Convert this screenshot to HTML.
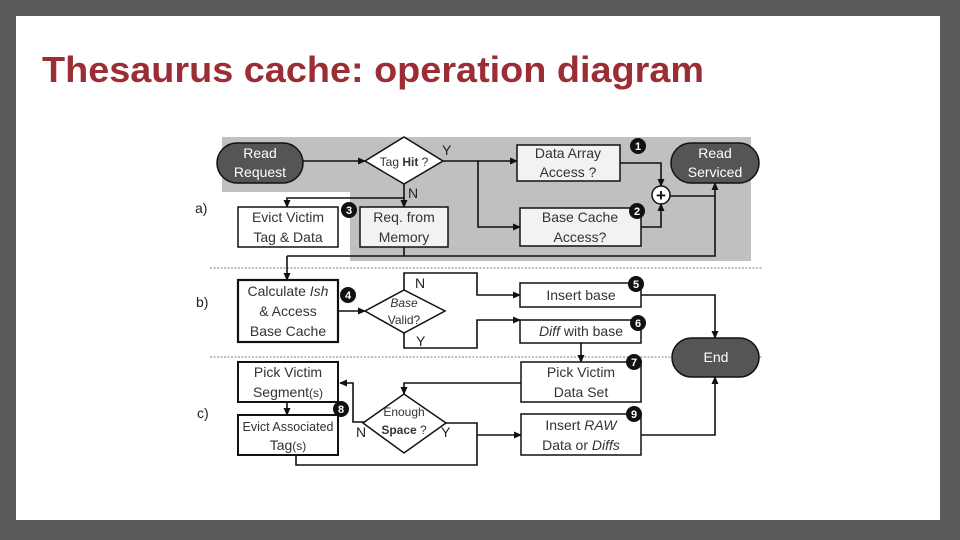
<!DOCTYPE html>
<html><head><meta charset="utf-8"><style>
html,body{margin:0;padding:0;background:#5a5a5a;}
svg{display:block;}
text{font-family:"Liberation Sans",sans-serif;}
</style></head><body>
<svg width="960" height="540" viewBox="0 0 960 540" xmlns="http://www.w3.org/2000/svg">
<defs>
<marker id="a" markerWidth="8" markerHeight="8" refX="7" refY="4" orient="auto" markerUnits="userSpaceOnUse"><path d="M0,0.5 L8,4 L0,7.5 Z" fill="#111"/></marker>
</defs>
<rect x="0" y="0" width="960" height="540" fill="#5a5a5a"/>
<rect x="16" y="16" width="924" height="504" fill="#fff"/>
<text x="42" y="82" font-size="36" font-weight="bold" fill="#9b2d35" textLength="662" lengthAdjust="spacingAndGlyphs">Thesaurus cache: operation diagram</text>

<!-- gray region -->
<path d="M222,137 L751,137 L751,261 L350,261 L350,192 L222,192 Z" fill="#c0c0c0"/>
<!-- dashed separators -->
<line x1="210" y1="268" x2="762" y2="268" stroke="#999" stroke-width="1.2" stroke-dasharray="2,1.5"/>
<line x1="210" y1="357" x2="762" y2="357" stroke="#999" stroke-width="1.2" stroke-dasharray="2,1.5"/>

<g stroke="#111" stroke-width="1.6" fill="none">
<!-- a -->
<line x1="303" y1="161" x2="365" y2="161" marker-end="url(#a)"/>
<path d="M443,161 L478,161 L478,227 L520,227" marker-end="url(#a)"/>
<line x1="478" y1="161" x2="517" y2="161" marker-end="url(#a)"/>
<path d="M620,163 L661,163 L661,186" marker-end="url(#a)"/>
<path d="M641,227 L661,227 L661,204" marker-end="url(#a)"/>
<path d="M670,196 L715,196"/>
<path d="M404,184 L404,207" marker-end="url(#a)"/>
<path d="M404,198 L287,198 L287,207" marker-end="url(#a)"/>
<path d="M404,247 L404,256"/>
<path d="M287,256 L715,256 L715,183" marker-end="url(#a)"/>
<path d="M287,256 L287,280" marker-end="url(#a)"/>
<!-- b -->
<line x1="338" y1="311" x2="365" y2="311" marker-end="url(#a)"/>
<path d="M404,290 L404,273 L477,273 L477,295 L520,295" marker-end="url(#a)"/>
<path d="M404,333 L404,348 L477,348 L477,320 L520,320" marker-end="url(#a)"/>
<path d="M641,295 L715,295 L715,338" marker-end="url(#a)"/>
<path d="M581,343 L581,362" marker-end="url(#a)"/>
<!-- c -->
<path d="M521,383 L404,383 L404,394" marker-end="url(#a)"/>
<path d="M365,422 L353,422 L353,383 L340,383" marker-end="url(#a)"/>
<path d="M287,402 L287,415" marker-end="url(#a)"/>
<path d="M446,423 L477,423 L477,465 L296,465 L296,455"/>
<path d="M477,435 L521,435" marker-end="url(#a)"/>
<path d="M641,435 L715,435 L715,377" marker-end="url(#a)"/>
</g>

<!-- pills -->
<rect x="217" y="143" width="86" height="40" rx="20" fill="#555" stroke="#111" stroke-width="1.5"/>
<rect x="671" y="143" width="88" height="40" rx="20" fill="#555" stroke="#111" stroke-width="1.5"/>
<rect x="672" y="338" width="87" height="39" rx="19.5" fill="#555" stroke="#111" stroke-width="1.5"/>

<!-- diamonds -->
<polygon points="365,161 404,137 443,161 404,184" fill="#fff" stroke="#111" stroke-width="1.5"/>
<polygon points="365,311 404,290 445,311 404,333" fill="#fff" stroke="#111" stroke-width="1.5"/>
<polygon points="363,423 404,394 446,423 404,453" fill="#fff" stroke="#111" stroke-width="1.5"/>

<!-- boxes -->
<g stroke="#111" stroke-width="1.5">
<rect x="517" y="145" width="103" height="36" fill="#f2f2f2"/>
<rect x="520" y="208" width="121" height="38" fill="#f2f2f2"/>
<rect x="238" y="207" width="100" height="40" fill="#fff"/>
<rect x="360" y="207" width="88" height="40" fill="#f2f2f2"/>
<rect x="238" y="280" width="100" height="62" fill="#fff" stroke-width="2.2"/>
<rect x="520" y="283" width="121" height="24" fill="#fff"/>
<rect x="520" y="320" width="121" height="23" fill="#fff"/>
<rect x="521" y="362" width="120" height="40" fill="#fff"/>
<rect x="238" y="362" width="100" height="40" fill="#fff" stroke-width="2"/>
<rect x="238" y="415" width="100" height="40" fill="#fff" stroke-width="2"/>
<rect x="521" y="414" width="120" height="41" fill="#fff"/>
</g>
<circle cx="661" cy="195" r="9" fill="#fff" stroke="#111" stroke-width="1.5"/>
<text x="661" y="201" font-size="17" font-weight="bold" text-anchor="middle" fill="#111">+</text>

<!-- badges -->
<g fill="#111">
<circle cx="638" cy="146" r="8"/><circle cx="637" cy="211" r="8"/><circle cx="349" cy="210" r="8"/>
<circle cx="348" cy="295" r="8"/><circle cx="636" cy="284" r="8"/><circle cx="638" cy="323" r="8"/>
<circle cx="634" cy="362" r="8"/><circle cx="341" cy="409" r="8"/><circle cx="634" cy="414" r="8"/>
</g>
<g fill="#fff" font-size="11" font-weight="bold" text-anchor="middle">
<text x="638" y="150">1</text><text x="637" y="215">2</text><text x="349" y="214">3</text>
<text x="348" y="299">4</text><text x="636" y="288">5</text><text x="638" y="327">6</text>
<text x="634" y="366">7</text><text x="341" y="413">8</text><text x="634" y="418">9</text>
</g>

<!-- texts -->
<g font-size="14" fill="#fff" text-anchor="middle">
<text x="260" y="158">Read</text><text x="260" y="177">Request</text>
<text x="715" y="158">Read</text><text x="715" y="177">Serviced</text>
<text x="716" y="362">End</text>
</g>
<g font-size="14" fill="#333" text-anchor="middle">
<text x="404" y="166" font-size="12">Tag <tspan font-weight="bold">Hit</tspan> ?</text>
<text x="568" y="158">Data Array</text><text x="568" y="177">Access ?</text>
<text x="580" y="222">Base Cache</text><text x="580" y="242">Access?</text>
<text x="288" y="222">Evict Victim</text><text x="288" y="242">Tag &amp; Data</text>
<text x="404" y="222">Req. from</text><text x="404" y="242">Memory</text>
<text x="288" y="296">Calculate <tspan font-style="italic">Ish</tspan></text>
<text x="288" y="316">&amp; Access</text><text x="288" y="336">Base Cache</text>
<text x="404" y="307" font-size="12" font-style="italic">Base</text>
<text x="404" y="324" font-size="12">Valid?</text>
<text x="581" y="300">Insert base</text>
<text x="581" y="336"><tspan font-style="italic">Diff</tspan> with base</text>
<text x="581" y="377">Pick Victim</text><text x="581" y="397">Data Set</text>
<text x="288" y="377">Pick Victim</text><text x="288" y="397">Segment<tspan font-size="12">(s)</tspan></text>
<text x="288" y="431" font-size="12.5">Evict Associated</text><text x="288" y="450">Tag<tspan font-size="12">(s)</tspan></text>
<text x="404" y="416" font-size="12">Enough</text>
<text x="404" y="434" font-size="12"><tspan font-weight="bold">Space</tspan> ?</text>
<text x="581" y="430">Insert <tspan font-style="italic">RAW</tspan></text>
<text x="581" y="450">Data or <tspan font-style="italic">Diffs</tspan></text>
</g>
<g font-size="14" fill="#222">
<text x="442" y="155">Y</text><text x="408" y="198">N</text>
<text x="415" y="288">N</text><text x="416" y="346">Y</text>
<text x="356" y="437">N</text><text x="441" y="437">Y</text>
<text x="195" y="213">a)</text><text x="196" y="307">b)</text><text x="197" y="418">c)</text>
</g>
</svg>
</body></html>
